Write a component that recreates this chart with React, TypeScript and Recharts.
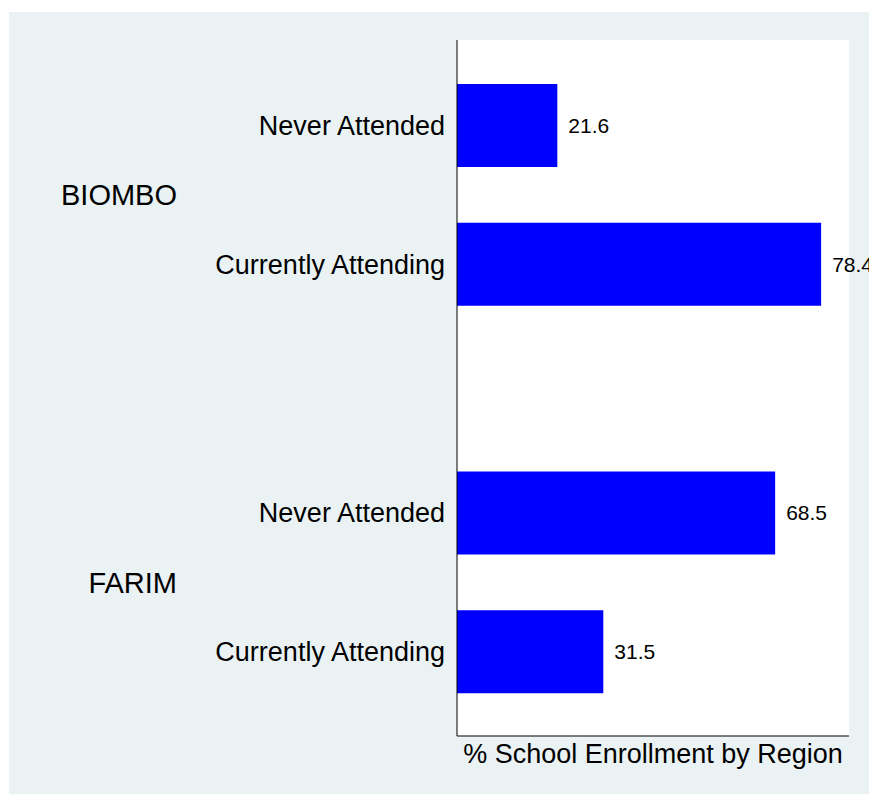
import {
  BarChart,
  Bar,
  CartesianGrid,
  LabelList,
  XAxis,
  YAxis,
} from "recharts";

const regions = ["BIOMBO", "FARIM"];
const statuses = ["Never Attended", "Currently Attending"];
const biomboValues = [21.6, 78.4];
const farimValues = [68.5, 31.5];
const axisTitle = "% School Enrollment by Region";

const FONT = '"Liberation Sans", Arial, Helvetica, sans-serif';

// vertical layout of rows, in axis units
const PAD = 85.5;
const STEP = 139;
const GROUP_GAP = 249;
const TOTAL = PAD * 2 + STEP * 2 + GROUP_GAP - 1;

const seriesByRegion = [biomboValues, farimValues];

const rows = regions.flatMap((region, g) =>
  statuses.map((status, i) => ({
    region,
    status,
    value: seriesByRegion[g][i],
    pos: PAD + g * (STEP + GROUP_GAP) + i * STEP,
  }))
);

const groupCenters = regions.map(
  (_, g) => PAD + g * (STEP + GROUP_GAP) + STEP / 2
);

function CategoryTick(props: any) {
  const { x, y, payload } = props;
  const row = rows.find((r) => r.pos === payload.value);
  return (
    <text
      x={x}
      y={y}
      dy="0.355em"
      textAnchor="end"
      fontSize={27}
      fontFamily={FONT}
      fill="#000"
    >
      {row ? row.status : ""}
    </text>
  );
}

function GroupTick(props: any) {
  const { x, y, payload } = props;
  const idx = groupCenters.indexOf(payload.value);
  return (
    <text
      x={x}
      y={y}
      dy="0.355em"
      textAnchor="end"
      fontSize={29}
      fontFamily={FONT}
      fill="#000"
    >
      {idx >= 0 ? regions[idx] : ""}
    </text>
  );
}

function AxisTitle(props: any) {
  const vb = props.viewBox || {};
  return (
    <text
      x={vb.x + vb.width / 2}
      y={vb.y + 27}
      textAnchor="middle"
      fontSize={27}
      fontFamily={FONT}
      fill="#000"
    >
      {axisTitle}
    </text>
  );
}

export default function App() {
  return (
    <div
      style={{
        position: "absolute",
        left: 9,
        top: 12,
        width: 860,
        height: 782,
        background: "#eaf2f3",
        overflow: "hidden",
      }}
    >
      <BarChart
        width={860}
        height={782}
        data={rows}
        layout="vertical"
        margin={{ top: 28, right: 20, left: 0, bottom: 0 }}
      >
        <CartesianGrid
          fill="#ffffff"
          stroke="none"
          horizontal={false}
          vertical={false}
        />
        <XAxis
          type="number"
          domain={[0, 84.4]}
          tick={false}
          tickLine={false}
          axisLine={{ stroke: "#000", strokeWidth: 1 }}
          height={58}
          label={<AxisTitle />}
        />
        <YAxis
          yAxisId="cat"
          type="number"
          dataKey="pos"
          domain={[0, TOTAL]}
          ticks={rows.map((r) => r.pos)}
          tick={<CategoryTick />}
          tickLine={false}
          tickSize={0}
          tickMargin={12}
          axisLine={{ stroke: "#000", strokeWidth: 1 }}
          width={268}
          interval={0}
        />
        <YAxis
          yAxisId="grp"
          type="number"
          dataKey="pos"
          domain={[0, TOTAL]}
          ticks={groupCenters}
          tick={<GroupTick />}
          tickLine={false}
          tickSize={0}
          tickMargin={12}
          axisLine={false}
          width={180}
          interval={0}
        />
        <Bar
          yAxisId="cat"
          dataKey="value"
          fill="#0000ff"
          barSize={83}
          isAnimationActive={false}
        >
          <LabelList
            dataKey="value"
            position="right"
            offset={11}
            fontSize={21}
            fontFamily={FONT}
            fill="#000"
            formatter={(v: any) => Number(v).toFixed(1)}
          />
        </Bar>
      </BarChart>
    </div>
  );
}
